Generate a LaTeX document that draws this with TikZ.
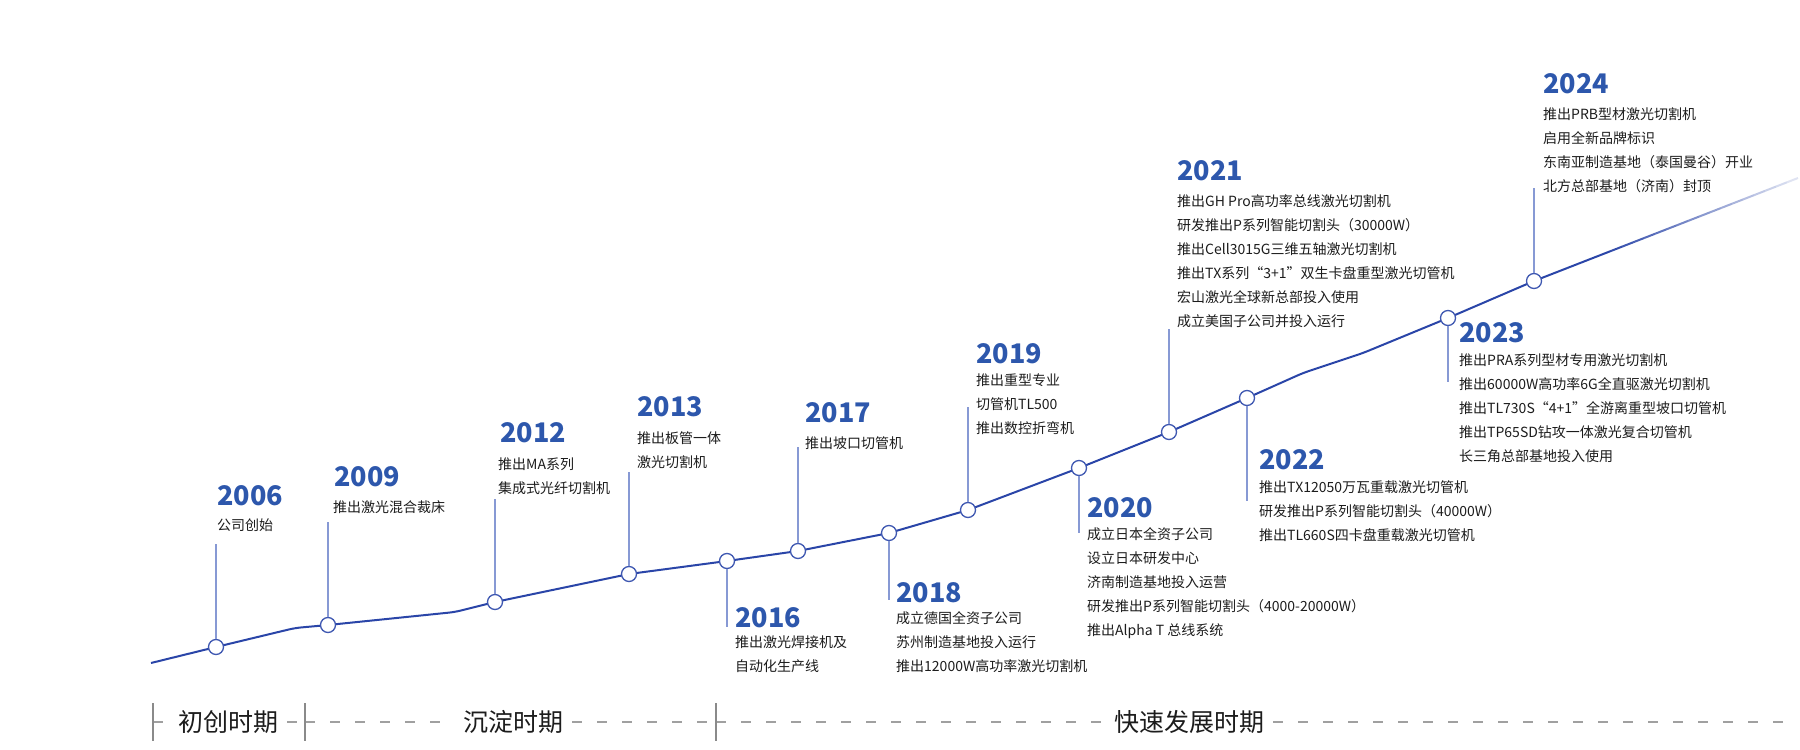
\documentclass[tikz,border=0pt]{standalone}
\usepackage{fontspec}
\setmainfont{Noto Sans CJK SC}
\usetikzlibrary{positioning, calc}

\definecolor{lineblue}{HTML}{2A45A8}
\definecolor{yearblue}{HTML}{2D57AC}
\definecolor{stemblue}{HTML}{8799D4}
\definecolor{sepgray}{HTML}{A0A0A0}
\definecolor{tickgray}{HTML}{8A8A8A}
\definecolor{txt}{HTML}{1C1C1C}

\tikzset{
    tline/.style={lineblue, line width=2pt, rounded corners=6pt},
    dot/.style={circle, draw=lineblue!90, fill=white, line width=1.3pt, minimum size=15pt, inner sep=0pt},
    stem/.style={stemblue, line width=2pt},
    yr/.style={anchor=base west, inner sep=0pt, text=yearblue, font=\fontsize{27}{30}\selectfont\bfseries},
    desc/.style={anchor=base west, inner sep=0pt, text=txt, align=left, font=\fontsize{14}{24}\selectfont},
    period/.style={inner xsep=9pt, inner ysep=0pt, text=txt, font=\fontsize{25}{27}\selectfont},
    sep/.style={sepgray, line width=1.8pt, dash pattern=on 10pt off 15pt},
    tickline/.style={tickgray, line width=1.2pt}
}

\begin{document}
\begin{tikzpicture}[x=1pt, y=-1pt]

    \useasboundingbox (0,0) rectangle (1800,750);

    \coordinate (p0) at (151,663);
    \coordinate (k2006) at (216,647);
    \coordinate (b1) at (295,628);
    \coordinate (k2009) at (328,625);
    \coordinate (b2) at (455,612);
    \coordinate (k2012) at (495,602);
    \coordinate (k2013) at (629,574);
    \coordinate (k2016) at (727,561);
    \coordinate (k2017) at (798,551);
    \coordinate (k2018) at (889,533);
    \coordinate (k2019) at (968,510);
    \coordinate (k2020) at (1079,468);
    \coordinate (k2021) at (1169,432);
    \coordinate (k2022) at (1247,398);
    \coordinate (b3) at (1303,373);
    \coordinate (b4) at (1363,353);
    \coordinate (k2023) at (1448,318);
    \coordinate (k2024) at (1534,281);
    \coordinate (pe) at (1798,178);

    \draw[tline] (p0) -- (k2006) -- (b1) -- (k2009) -- (b2) -- (k2012) -- (k2013)
        -- (k2016) -- (k2017) -- (k2018) -- (k2019) -- (k2020) -- (k2021)
        -- (k2022) -- (b3) -- (b4) -- (k2023) -- (k2024);

    \foreach \i in {0,...,23}{
        \pgfmathtruncatemacro\pct{min(100,100-(\i-6)*5)}
        \draw[tline, line cap=butt, lineblue!\pct!white]
            ($(k2024)!{\i/24}!(pe)$) -- ($(k2024)!{(\i+1)/24}!(pe)$);
    }

    \coordinate (s2006) at (216,544);
    \coordinate (s2009) at (328,522);
    \coordinate (s2012) at (495,499);
    \coordinate (s2013) at (629,472);
    \coordinate (s2016) at (727,627);
    \coordinate (s2017) at (798,447);
    \coordinate (s2018) at (889,600);
    \coordinate (s2019) at (968,407);
    \coordinate (s2020) at (1079,533);
    \coordinate (s2021) at (1169,329);
    \coordinate (s2022) at (1247,501);
    \coordinate (s2023) at (1448,382);
    \coordinate (s2024) at (1534,188);

    \foreach \y in {2006,2009,2012,2013,2016,2017,2018,2019,2020,2021,2022,2023,2024}{
        \node[dot] (c\y) at (k\y) {};
        \draw[stem] (c\y) -- (s\y);
    }

    % desc nodes sit on the baseline of their last line
    \node[yr] (y2006) at (217,505) {2006};
    \node[desc] (d2006) at (217,530) {公司创始};

    \node[yr] (y2009) at (334,486) {2009};
    \node[desc] (d2009) at (333,512) {推出激光混合裁床};

    \node[yr] (y2012) at (500,442) {2012};
    \node[desc] (d2012) at (498,493) {推出MA系列\\集成式光纤切割机};

    \node[yr] (y2013) at (637,416) {2013};
    \node[desc] (d2013) at (637,467) {推出板管一体\\激光切割机};

    \node[yr] (y2016) at (735,627) {2016};
    \node[desc] (d2016) at (735,671) {推出激光焊接机及\\自动化生产线};

    \node[yr] (y2017) at (805,422) {2017};
    \node[desc] (d2017) at (805,448) {推出坡口切管机};

    \node[yr] (y2018) at (896,602) {2018};
    \node[desc] (d2018) at (896,671) {成立德国全资子公司\\苏州制造基地投入运行\\推出12000W高功率激光切割机};

    \node[yr] (y2019) at (976,363) {2019};
    \node[desc] (d2019) at (976,433) {推出重型专业\\切管机TL500\\推出数控折弯机};

    \node[yr] (y2020) at (1087,517) {2020};
    \node[desc] (d2020) at (1087,635) {成立日本全资子公司\\设立日本研发中心\\济南制造基地投入运营\\\mbox{研发推出P系列智能切割头（4000-20000W）}\\推出Alpha T 总线系统};

    \node[yr] (y2021) at (1177,180) {2021};
    \node[desc] (d2021) at (1177,326) {推出GH Pro高功率总线激光切割机\\研发推出P系列智能切割头（30000W）\\推出Cell3015G三维五轴激光切割机\\\mbox{推出TX系列“3+1”双生卡盘重型激光切管机}\\宏山激光全球新总部投入使用\\成立美国子公司并投入运行};

    \node[yr] (y2022) at (1259,469) {2022};
    \node[desc] (d2022) at (1259,540) {推出TX12050万瓦重载激光切管机\\\mbox{研发推出P系列智能切割头（40000W）}\\推出TL660S四卡盘重载激光切管机};

    \node[yr] (y2023) at (1459,342) {2023};
    \node[desc] (d2023) at (1459,461) {推出PRA系列型材专用激光切割机\\推出60000W高功率6G全直驱激光切割机\\\mbox{推出TL730S“4+1”全游离重型坡口切管机}\\推出TP65SD钻攻一体激光复合切管机\\长三角总部基地投入使用};

    \node[yr] (y2024) at (1543,93) {2024};
    \node[desc] (d2024) at (1543,191) {推出PRB型材激光切割机\\启用全新品牌标识\\\mbox{东南亚制造基地（泰国曼谷）开业}\\北方总部基地（济南）封顶};

    \coordinate (t1) at (153,722);
    \coordinate (t2) at (305,722);
    \coordinate (t3) at (716,722);
    \coordinate (tend) at (1798,722);

    \node[period] (per1) at (228,722) {初创时期};
    \node[period] (per2) at (513,722) {沉淀时期};
    \node[period] (per3) at (1189,722) {快速发展时期};

    \draw[sep] (t1) -- (per1.west);
    \draw[sep] (per1.east) -- (t2);
    \draw[sep] (t2) -- (per2.west);
    \draw[sep] (per2.east) -- (t3);
    \draw[sep] (t3) -- (per3.west);
    \draw[sep] (per3.east) -- (tend);

    \draw[tickline] ($(t1)+(0,-19)$) -- ($(t1)+(0,19)$);
    \draw[tickline] ($(t2)+(0,-19)$) -- ($(t2)+(0,19)$);
    \draw[tickline] ($(t3)+(0,-19)$) -- ($(t3)+(0,19)$);

\end{tikzpicture}
\end{document}
